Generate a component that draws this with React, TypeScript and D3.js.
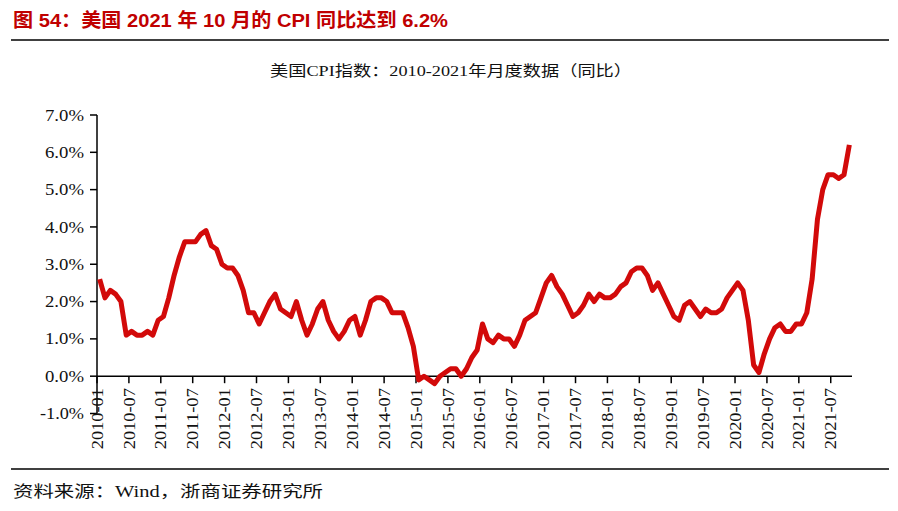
import React from 'react'
import { scaleBand, scaleLinear, line } from 'd3'

// US CPI YoY, 2010-01 .. 2021-10 (%)
const cpi2010 = [2.6, 2.1, 2.3, 2.2, 2.0, 1.1, 1.2, 1.1, 1.1, 1.2, 1.1, 1.5]
const cpi2011 = [1.6, 2.1, 2.7, 3.2, 3.6, 3.6, 3.6, 3.8, 3.9, 3.5, 3.4, 3.0]
const cpi2012 = [2.9, 2.9, 2.7, 2.3, 1.7, 1.7, 1.4, 1.7, 2.0, 2.2, 1.8, 1.7]
const cpi2013 = [1.6, 2.0, 1.5, 1.1, 1.4, 1.8, 2.0, 1.5, 1.2, 1.0, 1.2, 1.5]
const cpi2014 = [1.6, 1.1, 1.5, 2.0, 2.1, 2.1, 2.0, 1.7, 1.7, 1.7, 1.3, 0.8]
const cpi2015 = [-0.1, 0.0, -0.1, -0.2, 0.0, 0.1, 0.2, 0.2, 0.0, 0.2, 0.5, 0.7]
const cpi2016 = [1.4, 1.0, 0.9, 1.1, 1.0, 1.0, 0.8, 1.1, 1.5, 1.6, 1.7, 2.1]
const cpi2017 = [2.5, 2.7, 2.4, 2.2, 1.9, 1.6, 1.7, 1.9, 2.2, 2.0, 2.2, 2.1]
const cpi2018 = [2.1, 2.2, 2.4, 2.5, 2.8, 2.9, 2.9, 2.7, 2.3, 2.5, 2.2, 1.9]
const cpi2019 = [1.6, 1.5, 1.9, 2.0, 1.8, 1.6, 1.8, 1.7, 1.7, 1.8, 2.1, 2.3]
const cpi2020 = [2.5, 2.3, 1.5, 0.3, 0.1, 0.6, 1.0, 1.3, 1.4, 1.2, 1.2, 1.4]
const cpi2021 = [1.4, 1.7, 2.6, 4.2, 5.0, 5.4, 5.4, 5.3, 5.4, 6.2]

const values = [
  ...cpi2010, ...cpi2011, ...cpi2012, ...cpi2013, ...cpi2014, ...cpi2015,
  ...cpi2016, ...cpi2017, ...cpi2018, ...cpi2019, ...cpi2020, ...cpi2021,
]
const months = values.map((_, i) => {
  const y = 2010 + Math.floor(i / 12)
  const m = (i % 12) + 1
  return `${y}-${m < 10 ? '0' + m : m}`
})
const yTicks = [-1, 0, 1, 2, 3, 4, 5, 6, 7]
const xTickLabels = months.filter((_, i) => i % 6 === 0)

const title = '图 54：美国 2021 年 10 月的 CPI 同比达到 6.2%'
const subtitle = '美国CPI指数：2010-2021年月度数据（同比）'
const source = '资料来源：Wind，浙商证券研究所'

const W = 898
const H = 511
const serif = '"Liberation Serif", "DejaVu Serif", "Noto Sans CJK SC", serif'
const sans = '"Liberation Sans", Arial, "Noto Sans CJK SC", sans-serif'

export default function App() {
  const x = scaleBand<string>().domain(months).range([97, 852]).padding(0)
  const y = scaleLinear().domain([-1, 7]).range([413.5, 115])
  const path = line<number>()
    .x((_, i) => (x(months[i]) ?? 0) + x.bandwidth() / 2)
    .y(d => y(d))(values)

  return (
    <svg width={W} height={H} style={{ position: 'absolute', left: 0, top: 0, background: '#fff' }}>
      <text x={13} y={27} fill="#c00000" fontFamily={sans} fontWeight="bold" fontSize={19}
        textLength={435} lengthAdjust="spacingAndGlyphs">{title}</text>
      <line x1={11} x2={889} y1={40} y2={40} stroke="#000" strokeWidth={1.5} />
      <text x={270} y={76} fontFamily={serif} fontSize={15} fill="#111"
        textLength={362} lengthAdjust="spacingAndGlyphs">{subtitle}</text>

      {/* y axis */}
      <line x1={97} x2={97} y1={y(7)} y2={y(-1)} stroke="#000" strokeWidth={1.5} />
      {yTicks.map(t => (
        <g key={t}>
          <line x1={90} x2={97} y1={y(t)} y2={y(t)} stroke="#000" strokeWidth={1.5} />
          <text x={84} y={y(t)} dy="0.35em" textAnchor="end" fontFamily={serif} fontSize={16} fill="#111"
            textLength={t < 0 ? 44 : 39} lengthAdjust="spacingAndGlyphs">{t.toFixed(1) + '%'}</text>
        </g>
      ))}

      {/* x axis at 0 */}
      <line x1={97} x2={852} y1={y(0)} y2={y(0)} stroke="#000" strokeWidth={1.5} />
      {xTickLabels.map(m => {
        const tx = x(m) ?? 0
        return (
          <g key={m}>
            <line x1={tx} x2={tx} y1={y(0)} y2={y(0) + 7} stroke="#000" strokeWidth={1.5} />
            <text transform={`translate(${tx},${y(0) + 12}) rotate(-90)`} dy="0.35em" textAnchor="end"
              fontFamily={serif} fontSize={16} fill="#111"
              textLength={61} lengthAdjust="spacingAndGlyphs">{m}</text>
          </g>
        )
      })}

      <path d={path ?? ''} fill="none" stroke="#d20a0a" strokeWidth={5} strokeLinejoin="round" />

      <line x1={11} x2={889} y1={469} y2={469} stroke="#000" strokeWidth={1.5} />
      <text x={13} y={497} fontFamily={serif} fontSize={16} fill="#111"
        textLength={310} lengthAdjust="spacingAndGlyphs">{source}</text>
    </svg>
  )
}
